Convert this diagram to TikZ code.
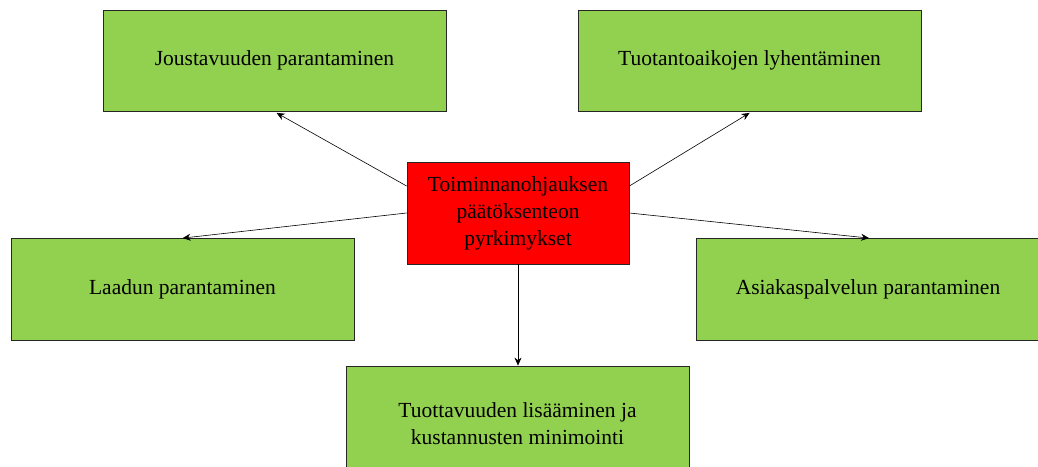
\documentclass[tikz,border=0pt]{standalone}
\usepackage{fontspec}
\setmainfont{Liberation Serif}
\usetikzlibrary{calc,arrows.meta,shadows}
\definecolor{boxgreen}{HTML}{92D050}
\definecolor{boxred}{HTML}{FF0000}
\begin{document}
\begin{tikzpicture}[x=1pt,y=-1pt,
  goalbox/.style={draw=black!85, line width=0.8pt, fill=boxgreen, rectangle,
    minimum width=343pt, minimum height=101pt, align=center, inner sep=0pt,
    font=\fontsize{21.5}{27}\selectfont,
    drop shadow={shadow xshift=1.2pt, shadow yshift=-1.2pt, fill=black!60, opacity=1}},
  hubbox/.style={goalbox, fill=boxred, minimum width=222pt, minimum height=102pt},
  link/.style={draw=black, line width=0.6pt, -{Stealth[length=8pt,width=7pt]}}
]
\useasboundingbox (0,0) rectangle (1038,466);
\begin{scope}
\clip (0,0) rectangle (1038,466);
\node[goalbox] (j) at (274.5,60.5) {Joustavuuden parantaminen};
\node[goalbox] (t) at (749.5,60.5) {Tuotantoaikojen lyhentäminen};
\node[hubbox]  (c) at (518,213) {Toiminnanohjauksen\\päätöksenteon\\pyrkimykset};
\node[goalbox, minimum height=102pt] (l) at (182.5,289) {Laadun parantaminen};
\node[goalbox, minimum height=102pt] (a) at (868,289) {Asiakaspalvelun parantaminen};
\node[goalbox, minimum height=116pt] (p) at (517.5,424) {Tuottavuuden lisääminen ja\\kustannusten minimointi};

\draw[link] ($(c.west)+(0,-27)$) -- ($(j.south west)+(174,1.5)$);
\draw[link] ($(c.east)+(0,-27)$) -- ($(t.south west)+(172,1.5)$);
\draw[link] (c.west) -- ($(l.north west)+(172,0.5)$);
\draw[link] (c.east) -- ($(a.north west)+(173,0.5)$);
\draw[link] (c.south) -- (c.south |- p.north);
\end{scope}
\end{tikzpicture}
\end{document}
